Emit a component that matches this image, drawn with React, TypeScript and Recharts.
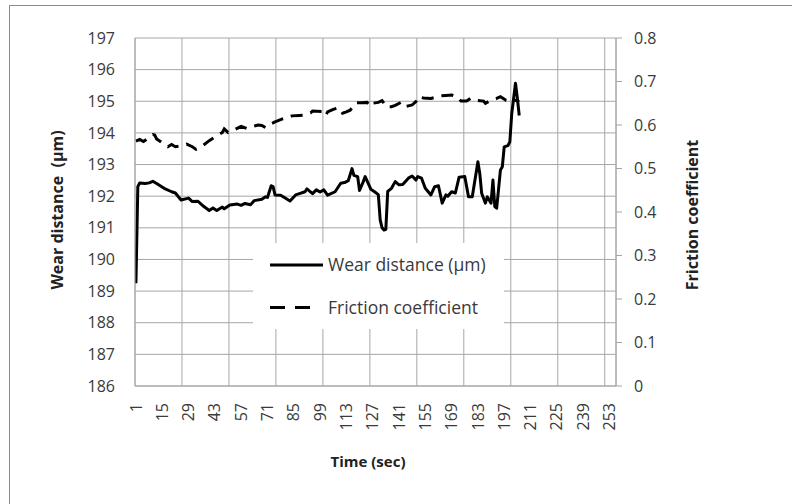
import React from 'react';
import { LineChart, Line, XAxis, YAxis, CartesianGrid, Legend } from 'recharts';

// wear distance (µm) at the times where the line turns
const wearTime = [
  1, 2, 3, 6, 8, 10, 12, 16, 20, 22, 25, 29, 31, 34, 37, 40, 42, 44, 47, 48, 51, 55, 57, 59, 62, 64,
  68, 70, 71, 73, 74, 75, 78, 80, 83, 86, 88, 91, 92, 95, 97, 99, 101, 103, 107, 110, 112, 114, 116,
  117, 119, 120, 122, 123, 126, 128, 130, 131, 132, 133, 134, 135, 137, 139, 141, 143, 146, 148, 150,
  151, 153, 155, 158, 160, 162, 164, 166, 167, 169, 171, 173, 176, 178, 180, 183, 184, 185, 187, 188,
  190, 191, 192, 193, 195, 196, 197, 199, 200, 201, 203, 204, 205,
];
const wearValue = [
  189.25, 192.3, 192.42, 192.4, 192.42, 192.47, 192.4, 192.25, 192.14, 192.1, 191.88, 191.94, 191.83,
  191.84, 191.68, 191.55, 191.63, 191.55, 191.66, 191.6, 191.72, 191.75, 191.71, 191.77, 191.73, 191.86,
  191.9, 191.98, 191.96, 192.33, 192.3, 192.04, 192.03, 191.96, 191.85, 192.04, 192.08, 192.14, 192.23,
  192.08, 192.2, 192.13, 192.2, 192.03, 192.14, 192.41, 192.43, 192.49, 192.87, 192.66, 192.62, 192.18,
  192.46, 192.62, 192.22, 192.14, 192.05, 191.25, 191.0, 190.93, 190.95, 192.15, 192.25, 192.46, 192.36,
  192.37, 192.57, 192.64, 192.51, 192.62, 192.57, 192.25, 192.04, 192.3, 192.33, 191.78, 192.04, 192.0,
  192.14, 192.1, 192.6, 192.62, 191.98, 191.98, 193.09, 192.72, 192.09, 191.78, 191.98, 191.78, 192.51,
  191.67, 191.62, 192.83, 192.93, 193.56, 193.6, 193.72, 194.6, 195.57, 195.1, 194.55,
];

// friction coefficient
const frictionTime = [
  1, 3, 5, 6, 8, 10, 11, 12, 14, 16, 18, 20, 22, 25, 28, 31, 33, 35, 37, 40, 43, 47, 48, 50, 53, 57,
  60, 62, 66, 68, 70, 72, 75, 79, 84, 88, 91, 94, 95, 100, 102, 103, 106, 109, 111, 113, 115, 118, 121,
  124, 126, 127, 130, 132, 133, 134, 137, 139, 142, 144, 146, 148, 150, 151, 154, 158, 163, 166, 169,
  172, 174, 177, 179, 181, 184, 186, 187, 190, 193, 195, 198, 201, 203, 205,
];
const frictionValue = [
  0.563, 0.567, 0.562, 0.565, 0.572, 0.578, 0.577, 0.568, 0.562, 0.556, 0.55, 0.555, 0.55, 0.552, 0.556,
  0.55, 0.544, 0.548, 0.554, 0.564, 0.572, 0.583, 0.591, 0.583, 0.588, 0.597, 0.592, 0.595, 0.6, 0.599,
  0.594, 0.601, 0.607, 0.614, 0.621, 0.622, 0.623, 0.628, 0.632, 0.631, 0.621, 0.63, 0.636, 0.64, 0.627,
  0.63, 0.634, 0.651, 0.651, 0.652, 0.643, 0.65, 0.652, 0.656, 0.65, 0.642, 0.642, 0.645, 0.652, 0.642,
  0.644, 0.646, 0.654, 0.665, 0.662, 0.661, 0.667, 0.668, 0.669, 0.665, 0.655, 0.655, 0.661, 0.657,
  0.656, 0.655, 0.65, 0.657, 0.661, 0.665, 0.657, 0.655, 0.657, 0.653,
];

const timeTicks = [1, 15, 29, 43, 57, 71, 85, 99, 113, 127, 141, 155, 169, 183, 197, 211, 225, 239, 253];
// vertical gridlines fall every 25 categories, between seconds
const gridTime = [25.5, 50.5, 75.5, 100.5, 125.5, 150.5, 175.5, 200.5, 225.5, 250.5];
const wearTicks = [186, 187, 188, 189, 190, 191, 192, 193, 194, 195, 196, 197];
const frictionTicks = [0, 0.1, 0.2, 0.3, 0.4, 0.5, 0.6, 0.7, 0.8];
const legendOrder = ['wear', 'friction'];

const wearData = wearTime.map((t, i) => ({ t, wear: wearValue[i] }));
const frictionData = frictionTime.map((t, i) => ({ t, friction: frictionValue[i] }));

const FONT = '"Open Sans", "Noto Sans", sans-serif';
const TEXT = '#3a3a3a';
const GRID = '#a6a6a6';

const TimeTick = ({ x, y, payload }: any) => (
  <g transform={`translate(${x},${y})`}>
    <text transform="rotate(-90)" textAnchor="end" dy="0.35em" fill={TEXT} fontSize={16} fontFamily={FONT}>
      {payload.value}
    </text>
  </g>
);

const LegendBox = ({ payload }: any) => {
  const items = [...(payload || [])].sort(
    (a: any, b: any) => legendOrder.indexOf(a.dataKey) - legendOrder.indexOf(b.dataKey),
  );
  return (
    <div style={{ width: 251, height: 86, background: '#fff' }}>
      <svg width={251} height={86} style={{ display: 'block' }}>
        {items.map((entry: any, k: number) => {
          const cy = k === 0 ? 22 : 64.5;
          const dashed = entry.dataKey === 'friction';
          return (
            <g key={entry.value}>
              <line
                x1={17}
                x2={dashed ? 67 : 70}
                y1={cy}
                y2={cy}
                stroke="#000"
                strokeWidth={3}
                strokeDasharray={dashed ? '15 10' : undefined}
              />
              <text x={75} y={cy} dy="0.35em" fill={TEXT} fontSize={17.5} fontFamily={FONT}>
                {entry.value}
              </text>
            </g>
          );
        })}
      </svg>
    </div>
  );
};

const titleStyle = (cx: number, cy: number, rotate: boolean, size: number): React.CSSProperties => ({
  position: 'absolute',
  left: cx,
  top: cy,
  transform: `translate(-50%, -50%)${rotate ? ' rotate(-90deg)' : ''}`,
  whiteSpace: 'pre',
  fontFamily: FONT,
  fontWeight: 700,
  fontSize: size,
  color: '#222',
  lineHeight: 1,
});

export default function App() {
  return (
    <div style={{ position: 'absolute', left: 0, top: 0, width: 792, height: 504, overflow: 'hidden', background: '#fff' }}>
      <div style={{ position: 'absolute', left: 9, top: 5, width: 800, height: 520, border: '1px solid #8c8c8c' }} />
      <div style={{ position: 'absolute', left: 0, top: 0 }}>
        <LineChart width={792} height={504} margin={{ top: 38, right: 0, bottom: 0, left: 0 }}>
          <XAxis
            xAxisId="time"
            dataKey="t"
            type="number"
            domain={[0.5, 256.5]}
            allowDataOverflow
            ticks={timeTicks}
            interval={0}
            height={118}
            tickLine={false}
            tickSize={8}
            tickMargin={9}
            tick={<TimeTick />}
            axisLine={{ stroke: GRID }}
          />
          <XAxis
            xAxisId="grid"
            dataKey="t"
            type="number"
            domain={[0.5, 256.5]}
            allowDataOverflow
            ticks={gridTime}
            height={0}
            hide
          />
          <YAxis
            yAxisId="left"
            domain={[186, 197]}
            ticks={wearTicks}
            interval={0}
            width={135}
            tickLine={false}
            tickSize={18}
            tickMargin={2}
            axisLine={{ stroke: GRID }}
            tick={{ fill: TEXT, fontSize: 16, fontFamily: FONT }}
          />
          <YAxis
            yAxisId="right"
            orientation="right"
            domain={[0, 0.8]}
            ticks={frictionTicks}
            interval={0}
            width={176}
            tickSize={6}
            tickMargin={12}
            tickLine={{ stroke: GRID }}
            axisLine={{ stroke: GRID }}
            tick={{ fill: TEXT, fontSize: 16, fontFamily: FONT, textAnchor: 'start' }}
          />
          <CartesianGrid xAxisId="grid" yAxisId="left" stroke={GRID} />
          <Legend
            layout="vertical"
            align="center"
            verticalAlign="middle"
            content={<LegendBox />}
            wrapperStyle={{ left: 253, top: 243, width: 251, height: 86 }}
          />
          <Line
            data={wearData}
            xAxisId="time"
            yAxisId="left"
            dataKey="wear"
            name="Wear distance (μm)"
            stroke="#000"
            strokeWidth={3}
            strokeLinejoin="round"
            dot={false}
            isAnimationActive={false}
          />
          <Line
            data={frictionData}
            xAxisId="time"
            yAxisId="right"
            dataKey="friction"
            name="Friction coefficient"
            stroke="#000"
            strokeWidth={3}
            strokeDasharray="12 8"
            dot={false}
            isAnimationActive={false}
          />
        </LineChart>
      </div>
      <div style={titleStyle(57, 210, true, 16)}>{'Wear distance  (μm)'}</div>
      <div style={titleStyle(692, 215, true, 16)}>Friction coefficient</div>
      <div style={titleStyle(368, 461, false, 15)}>Time (sec)</div>
    </div>
  );
}
